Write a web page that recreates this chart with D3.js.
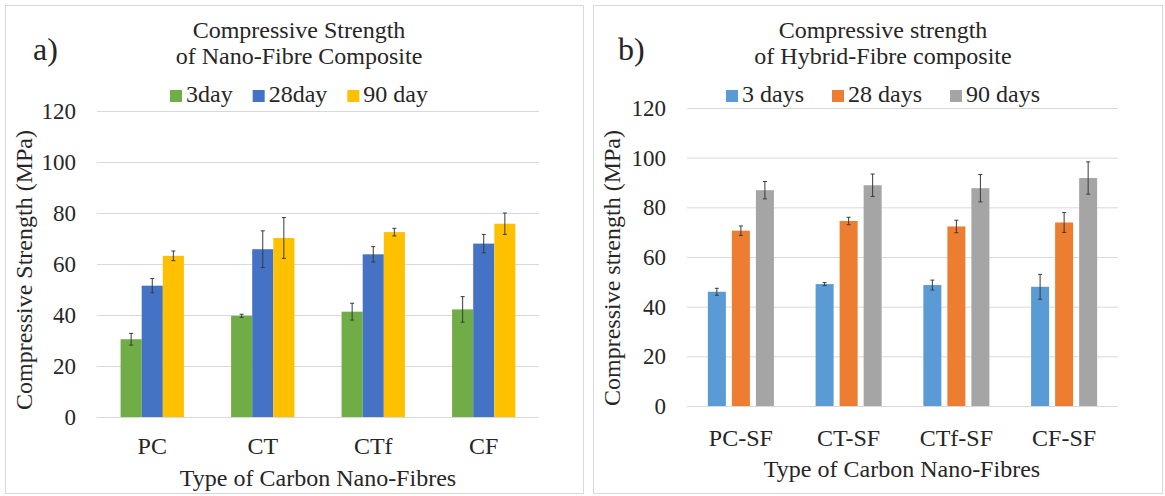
<!DOCTYPE html>
<html>
<head>
<meta charset="UTF-8" />
</head>
<body style="margin:0">
<svg id="chart" width="1165" height="496"></svg>
<script src="https://d3js.org/d3.v7.min.js"></script>
<script>
// values (MPa)
const yTicks = [0, 20, 40, 60, 80, 100, 120];

const catsA = ["PC", "CT", "CTf", "CF"];
const seriesA = ["3day", "28day", "90 day"];
const a3 = [30.5, 39.7, 41.3, 42.2];
const a28 = [51.5, 65.8, 63.8, 68.0];
const a90 = [63.2, 70.2, 72.5, 75.8];
const errA3 = [2.3, 0.6, 3.3, 5.0];
const errA28 = [2.8, 7.2, 3.0, 3.6];
const errA90 = [1.9, 8.0, 1.5, 4.2];

const catsB = ["PC-SF", "CT-SF", "CTf-SF", "CF-SF"];
const seriesB = ["3 days", "28 days", "90 days"];
const b3 = [46.0, 49.1, 48.7, 48.0];
const b28 = [70.6, 74.5, 72.3, 73.9];
const b90 = [86.9, 88.9, 87.7, 91.8];
const errB3 = [1.4, 0.6, 2.0, 5.0];
const errB28 = [1.9, 1.5, 2.5, 4.0];
const errB90 = [3.5, 4.5, 5.5, 6.5];

const svg = d3.select("#chart");
const ink = "#262626";
const fs = 24;

function label(sel, size) {
  return sel.append("text")
    .attr("font-size", size || fs)
    .style("font-family", "'Liberation Serif', 'Times New Roman', monospace")
    .attr("fill", ink);
}

function drawPanel(p) {
  const g = svg.append("g");
  g.append("rect")
    .attr("x", p.box[0] + 0.5).attr("y", p.box[1] + 0.5)
    .attr("width", p.box[2] - p.box[0]).attr("height", p.box[3] - p.box[1])
    .attr("fill", "#fff").attr("stroke", "#d9d9d9");

  const x0 = d3.scaleBand().domain(p.cats).range([p.left, p.right])
    .paddingInner(p.pad).paddingOuter(p.pad / 2);
  const x1 = d3.scaleBand().domain(p.series).range([0, x0.bandwidth()])
    .paddingInner(p.innerPad);
  const y = d3.scaleLinear().domain([0, 120]).range([p.bottom, p.top]);

  // grid
  g.append("g")
    .attr("transform", `translate(${p.left},0)`)
    .call(d3.axisLeft(y).tickValues(yTicks).tickSize(-(p.right - p.left)).tickFormat(""))
    .call(a => a.select(".domain").remove())
    .call(a => a.selectAll("line").attr("stroke", "#d9d9d9"));

  // tick labels
  yTicks.forEach(t => {
    label(g, 23).attr("x", p.left - 21).attr("y", y(t) + 8)
      .attr("text-anchor", "end").text(t);
  });

  const rows = p.cats.map((c, i) => ({
    cat: c,
    bars: p.series.map((s, j) => ({ s, v: p.vals[j][i], e: p.errs[j][i], col: p.colors[j] }))
  }));

  const grp = g.selectAll("g.grp").data(rows).join("g")
    .attr("class", "grp")
    .attr("transform", d => `translate(${x0(d.cat)},0)`);

  grp.selectAll("rect").data(d => d.bars).join("rect")
    .attr("x", d => x1(d.s)).attr("width", x1.bandwidth())
    .attr("y", d => y(d.v)).attr("height", d => y(0) - y(d.v))
    .attr("fill", d => d.col);

  const eb = grp.selectAll("g.eb").data(d => d.bars).join("g")
    .attr("class", "eb")
    .attr("transform", d => `translate(${x1(d.s) + x1.bandwidth() / 2},0)`)
    .attr("stroke", "#3a3a3a").attr("stroke-width", 1);
  eb.append("line").attr("y1", d => y(d.v + d.e)).attr("y2", d => y(d.v - d.e));
  eb.append("line").attr("x1", -2).attr("x2", 2).attr("y1", d => y(d.v + d.e)).attr("y2", d => y(d.v + d.e));
  eb.append("line").attr("x1", -2).attr("x2", 2).attr("y1", d => y(d.v - d.e)).attr("y2", d => y(d.v - d.e));

  // category labels
  p.cats.forEach(c => {
    label(g).attr("x", x0(c) + x0.bandwidth() / 2).attr("y", p.xLabY)
      .attr("text-anchor", "middle").text(c);
  });

  label(g).attr("x", p.xTitleX).attr("y", p.xTitleY)
    .attr("text-anchor", "middle").text(p.xTitle);

  label(g).attr("transform", `translate(${p.yTitleX},${p.yTitleY}) rotate(-90)`)
    .attr("text-anchor", "middle").text(p.yTitle);

  // chart title
  p.title.forEach((t, i) => {
    label(g).attr("x", p.titleX).attr("y", 38 + i * 26)
      .attr("text-anchor", "middle").text(t);
  });

  label(g, 32).attr("x", p.tagX).attr("y", 60).text(p.tag);

  // legend
  const leg = g.append("g");
  let cx = 0;
  p.series.forEach((s, j) => {
    leg.append("rect").attr("x", cx).attr("y", -12).attr("width", 12).attr("height", 12)
      .attr("fill", p.colors[j]);
    const t = label(leg).attr("x", cx + 16).attr("y", 0).text(s);
    cx += 16 + t.node().getComputedTextLength() + p.legGap;
  });
  const w = cx - p.legGap;
  leg.attr("transform", `translate(${p.titleX - w / 2},102)`);
}

drawPanel({
  box: [5, 5, 583, 493],
  left: 97, right: 539, top: 111, bottom: 417,
  pad: 0.427, innerPad: 0,
  cats: catsA, series: seriesA,
  vals: [a3, a28, a90], errs: [errA3, errA28, errA90],
  colors: ["#70ad47", "#4472c4", "#ffc000"],
  title: ["Compressive Strength", "of Nano-Fibre Composite"],
  titleX: 299, tag: "a)", tagX: 33,
  xLabY: 454, xTitle: "Type of Carbon Nano-Fibres", xTitleX: 318, xTitleY: 486,
  yTitle: "Compressive Strength (MPa)", yTitleX: 32, yTitleY: 270,
  legGap: 20
});

drawPanel({
  box: [593, 5, 1162, 493],
  left: 687, right: 1118, top: 108, bottom: 406,
  pad: 0.387, innerPad: 0.25,
  cats: catsB, series: seriesB,
  vals: [b3, b28, b90], errs: [errB3, errB28, errB90],
  colors: ["#5b9bd5", "#ed7d31", "#a5a5a5"],
  title: ["Compressive strength", "of Hybrid-Fibre composite"],
  titleX: 883, tag: "b)", tagX: 618,
  xLabY: 446, xTitle: "Type of Carbon Nano-Fibres", xTitleX: 902, xTitleY: 477,
  yTitle: "Compressive strength (MPa)", yTitleX: 620, yTitleY: 268,
  legGap: 28
});
</script>
</body>
</html>
